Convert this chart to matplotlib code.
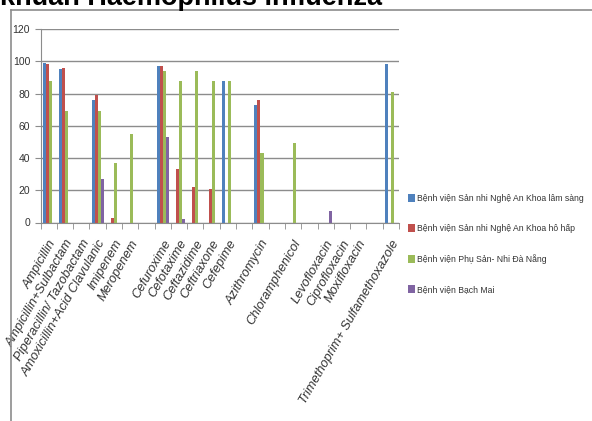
import numpy as np
import matplotlib
matplotlib.use("Agg")
import matplotlib.pyplot as plt
from matplotlib import font_manager
from matplotlib.lines import Line2D

# --- data ---
categories = ["Ampicillin", "Ampicillin+Sulbactam", "Piperacillin/ Tazobactam",
              "Amoxicillin+Acid Clavulanic", "Imipenem", "Meropenem", "",
              "Cefuroxime", "Cefotaxime", "Ceftazidime", "Ceftriaxone", "Cefepime", "",
              "Azithromycin", "", "Chloramphenicol", "",
              "Levofloxacin", "Ciprofloxacin", "Moxifloxacin", "",
              "Trimethoprim+ Sulfamethoxazole"]

series_names = ["Bệnh viện Sản nhi Nghệ An Khoa lâm sàng",
                "Bệnh viện Sản nhi Nghệ An Khoa hô hấp",
                "Bệnh viện Phụ Sản- Nhi Đà Nẵng",
                "Bệnh viện Bạch Mai"]

N = None
lam_sang = [99, 95, N, 76, N, N, N, 97, N, N, N, 88, N, 73, N, N, N, N, N, N, N, 98]
ho_hap   = [98, 96, N, 79, 3, N, N, 97, 33, 22, 21, N, N, 76, N, N, N, N, N, N, N, N]
da_nang  = [88, 69, N, 69, 37, 55, N, 94, 88, 94, 88, 88, N, 43, N, 49, N, N, N, N, N, 81]
bach_mai = [N, N, N, 27, N, N, N, 53, 2, N, N, N, N, N, N, N, N, 7, N, N, N, N]

colors = ["#4F81BD", "#C0504D", "#9BBB59", "#8064A2"]

# --- fonts ---
names = {f.name for f in font_manager.fontManager.ttflist}
narrow = "Liberation Sans Narrow" if "Liberation Sans Narrow" in names else "Liberation Sans"
leg_size = 7.5 if narrow == "Liberation Sans Narrow" else 6.2

fig = plt.figure(figsize=(5.92, 4.21), dpi=100)
W, H = 592, 421
ax = fig.add_axes([40.5 / W, (H - 222.5) / H, (399 - 40.5) / W, (222.5 - 29) / H])

x = np.arange(len(categories))
bw = 0.185
for i, (vals, col, name) in enumerate(zip([lam_sang, ho_hap, da_nang, bach_mai], colors, series_names)):
    xs = [xi + (i - 1.5) * bw for xi, v in zip(x, vals) if v is not None]
    hs = [v for v in vals if v is not None]
    ax.bar(xs, hs, width=bw, color=col, label=name, linewidth=0)

ax.set_xlim(-0.5, len(categories) - 0.5)
ax.set_ylim(0, 120)
ax.set_yticks(range(0, 121, 20))
ax.yaxis.grid(True, color="#8c8c8c", linewidth=1)
ax.set_axisbelow(True)
for s in ["top", "right"]:
    ax.spines[s].set_visible(False)
for s in ["left", "bottom"]:
    ax.spines[s].set_color("#8c8c8c")

ax.set_xticks(x)
ax.set_xticklabels(categories, rotation=60, ha="right", va="top", rotation_mode="anchor",
                   fontsize=9.2, style="italic", family="Liberation Sans", color="#333333")
ax.set_xticks(np.arange(-0.5, len(categories), 1), minor=True)
ax.tick_params(axis="x", which="major", length=0, pad=11)
ax.tick_params(axis="x", which="minor", length=4, color="#8c8c8c")
ax.tick_params(axis="y", length=4, color="#8c8c8c", labelsize=7.5, labelcolor="#333333")
for lab in ax.get_yticklabels():
    lab.set_family(narrow)

leg = fig.legend(loc="upper left", bbox_to_anchor=(400 / W, 1 - 186 / H), frameon=False,
                 prop={"family": narrow, "size": leg_size}, handlelength=0.8, handleheight=1.0,
                 handletextpad=0.3, labelspacing=2.45)
for t in leg.get_texts():
    t.set_color("#333333")

# outer chart frame (only top and left edges visible)
fig.add_artist(Line2D([11 / W, 1], [1 - 10 / H, 1 - 10 / H], color="#8c8c8c", linewidth=1.2))
fig.add_artist(Line2D([11 / W, 11 / W], [0, 1 - 10 / H], color="#8c8c8c", linewidth=1.2))

# title, cut off at the top edge as in the source
fig.text(0, 1 - 5 / H, "khuẩn Haemophilus influenza", fontsize=19.5, fontweight="bold",
         family="Liberation Sans", ha="left", va="baseline")

fig.savefig("out.png", dpi=100)
